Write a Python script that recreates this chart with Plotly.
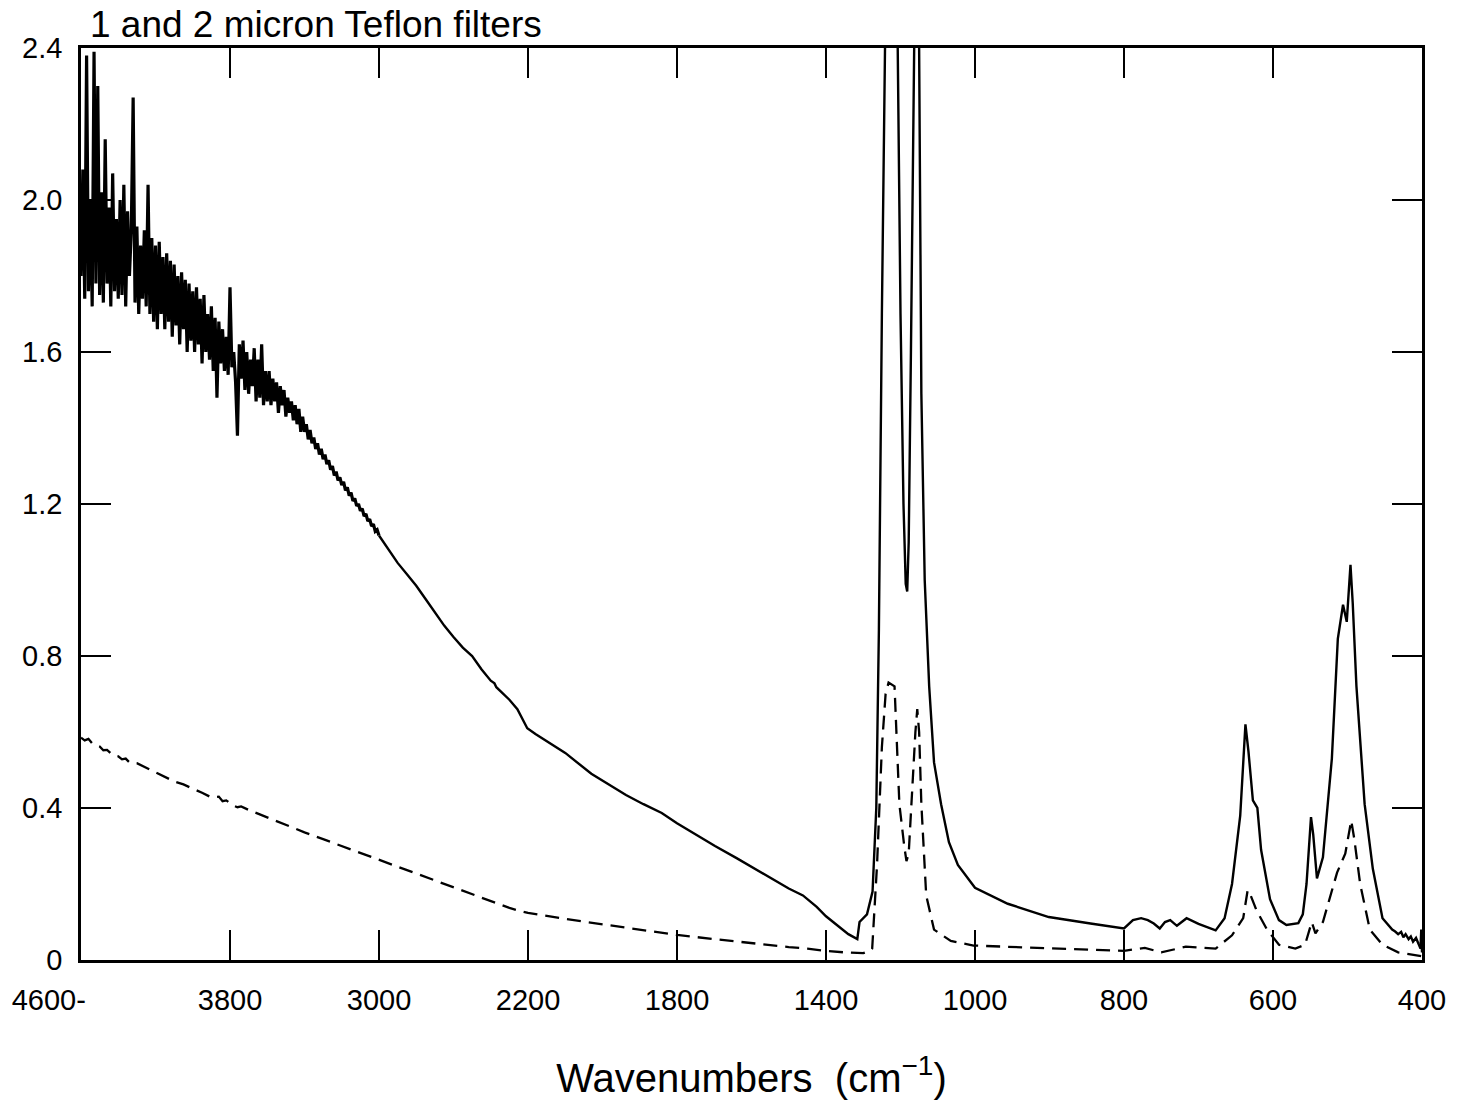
import numpy as np
import plotly.graph_objects as go

# ---- axis definition (piecewise-linear wavenumber scale, as in the original) ----
TICK_WN = [4600, 3800, 3000, 2200, 1800, 1400, 1000, 800, 600, 400]
TICK_TEXT = ["4600-" + "\u00a0" * 8, "3800", "3000", "2200", "1800", "1400", "1000", "800", "600", "400"]
Y_TICKS = [0, 0.4, 0.8, 1.2, 1.6, 2.0, 2.4]
Y_TEXT = ["0", "0.4", "0.8", "1.2", "1.6", "2.0", "2.4"]

# ---- solid curve (2 micron filter): noisy high-wavenumber part ----
SOLID_NOISY_WN = [
    4600, 4590, 4580, 4570, 4560, 4550, 4540, 4530, 4520, 4510, 4500, 4490, 4480, 4470, 4460,
    4450, 4440, 4430, 4420, 4410, 4400, 4390, 4380, 4370, 4360, 4350, 4340, 4330, 4320, 4310,
    4300, 4290, 4280, 4270, 4260, 4250, 4240, 4230, 4220, 4210, 4200, 4190, 4180, 4170, 4160,
    4150, 4140, 4130, 4120, 4110, 4100, 4090, 4080, 4070, 4060, 4050, 4040, 4030, 4020, 4010,
    4000, 3990, 3980, 3970, 3960, 3950, 3940, 3930, 3920, 3910, 3900, 3890, 3880, 3870, 3860,
    3850, 3840, 3830, 3820, 3810, 3800, 3790, 3780, 3770, 3760, 3750, 3740, 3730, 3720, 3710,
    3700, 3690, 3680, 3670, 3660, 3650, 3640, 3630, 3620, 3610,
    3600, 3590, 3580, 3570, 3560, 3550, 3540, 3530, 3520, 3510,
    3500, 3490, 3480, 3470, 3460, 3450, 3440, 3430, 3420, 3410,
    3400, 3390, 3380, 3370, 3360, 3350, 3340, 3330, 3320, 3310,
    3300, 3290, 3280, 3270, 3260, 3250, 3240, 3230, 3220, 3210,
    3200, 3190, 3180, 3170, 3160, 3150, 3140, 3130, 3120, 3110,
    3100, 3090, 3080, 3070, 3060, 3050, 3040, 3030, 3020, 3010, 3000,
]
SOLID_NOISY_ABS = [
    1.80, 2.08, 1.74, 2.38, 1.76, 2.00, 1.72, 2.39, 1.78, 2.30, 1.75, 2.02, 1.73, 2.16, 1.78,
    1.98, 1.72, 2.07, 1.76, 1.95, 1.74, 2.00, 1.75, 2.04, 1.72, 1.97, 1.80, 1.92, 2.27, 1.73,
    1.93, 1.70, 1.88, 1.74, 1.92, 1.72, 2.04, 1.70, 1.90, 1.68, 1.88, 1.66, 1.89, 1.70, 1.85,
    1.66, 1.86, 1.68, 1.84, 1.64, 1.83, 1.67, 1.80, 1.62, 1.81, 1.66, 1.79, 1.60, 1.78, 1.63,
    1.76, 1.60, 1.77, 1.62, 1.74, 1.57, 1.75, 1.60, 1.70, 1.58, 1.72, 1.55, 1.69, 1.48, 1.68,
    1.57, 1.66, 1.55, 1.64, 1.54, 1.77, 1.56, 1.60, 1.52, 1.38, 1.62, 1.53, 1.63, 1.50, 1.60,
    1.49, 1.58, 1.51, 1.61, 1.47, 1.58, 1.48, 1.62, 1.46, 1.55,
    1.47, 1.55, 1.46, 1.53, 1.47, 1.52, 1.44, 1.51, 1.46, 1.50,
    1.43, 1.48, 1.44, 1.47, 1.42, 1.46, 1.41, 1.45, 1.39, 1.43,
    1.39, 1.41, 1.37, 1.395, 1.36, 1.375, 1.345, 1.36, 1.33, 1.345,
    1.318, 1.33, 1.305, 1.315, 1.29, 1.30, 1.275, 1.285, 1.262, 1.27,
    1.25, 1.258, 1.236, 1.244, 1.222, 1.23, 1.208, 1.215, 1.195, 1.20,
    1.182, 1.188, 1.168, 1.174, 1.155, 1.16, 1.142, 1.147, 1.128, 1.132, 1.117,
]
# ---- solid curve: smoother part down to 400 cm-1 ----
SOLID_SMOOTH_WN = [
    3000, 2950, 2900, 2850, 2800, 2750, 2700, 2650, 2600, 2550, 2500, 2450, 2400, 2380, 2370,
    2330, 2300, 2257, 2230, 2204, 2180, 2144, 2100, 2030, 1990, 1937, 1890, 1841, 1800, 1750,
    1698, 1640, 1600, 1558, 1520, 1500, 1462, 1425, 1400, 1370, 1340, 1316, 1310, 1290, 1275,
    1265, 1258, 1250, 1244, 1238, 1225, 1215, 1208, 1200, 1192, 1186, 1182, 1178, 1172, 1166,
    1160, 1155, 1150, 1144, 1135, 1123, 1110, 1091, 1070, 1046, 1020, 1000, 956, 901, 845,
    800, 788, 777, 768, 760, 752, 745, 738, 729, 716, 700, 677, 665, 655, 644,
    637, 633, 627, 621, 616, 604, 592, 582, 566, 560, 555, 549, 546, 541, 533,
    521, 513, 506, 501, 496, 493, 488, 477, 466, 453, 445, 440, 436, 432, 428,
    425, 422, 418, 415, 412, 408, 405, 402, 401, 400,
]
SOLID_SMOOTH_ABS = [
    1.117, 1.080, 1.045, 1.015, 0.985, 0.950, 0.915, 0.880, 0.850, 0.822, 0.800, 0.765, 0.735, 0.728, 0.718,
    0.700, 0.685, 0.660, 0.635, 0.610, 0.595, 0.572, 0.545, 0.490, 0.465, 0.434, 0.410, 0.387, 0.360, 0.330,
    0.300, 0.268, 0.245, 0.220, 0.198, 0.188, 0.170, 0.140, 0.115, 0.092, 0.068, 0.055, 0.100, 0.120, 0.180,
    0.400, 0.870, 1.700, 2.450, 2.700, 2.700, 2.700, 2.450, 1.700, 1.200, 0.990, 0.970, 1.100, 1.600, 2.450,
    2.700, 2.650, 2.400, 1.490, 1.000, 0.720, 0.520, 0.410, 0.310, 0.250, 0.215, 0.190, 0.148, 0.113, 0.096,
    0.083, 0.105, 0.110, 0.105, 0.096, 0.083, 0.100, 0.105, 0.090, 0.110, 0.095, 0.078, 0.110, 0.200, 0.380,
    0.620, 0.550, 0.420, 0.400, 0.290, 0.160, 0.105, 0.092, 0.097, 0.120, 0.200, 0.376, 0.330, 0.215, 0.270,
    0.530, 0.845, 0.935, 0.890, 1.040, 0.940, 0.720, 0.410, 0.240, 0.110, 0.090, 0.080, 0.075, 0.068, 0.074,
    0.060, 0.068, 0.055, 0.062, 0.048, 0.058, 0.045, 0.030, 0.080, 0.020,
]

# ---- dashed curve (1 micron filter) ----
DASH_WN = [
    4600, 4580, 4560, 4540, 4520, 4500, 4480, 4460, 4440, 4420, 4400, 4380, 4360, 4340, 4300,
    4260, 4200, 4150, 4100, 4050, 4000, 3950, 3900, 3860, 3840, 3820, 3800, 3780, 3760, 3740,
    3700, 3600, 3500, 3400, 3300, 3200, 3100, 3000, 2900, 2800, 2700, 2600, 2500, 2400, 2300,
    2250, 2200, 2100, 2000, 1900, 1800, 1700, 1600, 1560, 1500, 1450, 1400, 1350, 1300, 1280,
    1276, 1263, 1250, 1240, 1232, 1216, 1203, 1190, 1184, 1178, 1171, 1160, 1155, 1150, 1144,
    1131, 1110, 1065, 1004, 950, 901, 850, 800, 772, 750, 717, 677, 655, 640, 634,
    630, 622, 608, 592, 570, 557, 548, 543, 533, 514, 503, 495, 491, 483, 470,
    453, 432, 400,
]
DASH_ABS = [
    0.585, 0.578, 0.582, 0.570, 0.566, 0.562, 0.552, 0.553, 0.544, 0.538, 0.536, 0.528, 0.530, 0.520, 0.518,
    0.508, 0.495, 0.482, 0.470, 0.462, 0.452, 0.440, 0.428, 0.430, 0.418, 0.420, 0.413, 0.406, 0.402, 0.404,
    0.395, 0.375, 0.354, 0.336, 0.318, 0.300, 0.282, 0.263, 0.244, 0.228, 0.210, 0.190, 0.172, 0.155, 0.137,
    0.130, 0.124, 0.108, 0.094, 0.080, 0.066, 0.055, 0.044, 0.040, 0.034, 0.030, 0.024, 0.020, 0.018, 0.025,
    0.030, 0.250, 0.560, 0.700, 0.730, 0.720, 0.410, 0.300, 0.260, 0.280, 0.410, 0.600, 0.660, 0.600, 0.410,
    0.170, 0.080, 0.050, 0.038, 0.034, 0.032, 0.028, 0.024, 0.032, 0.020, 0.035, 0.030, 0.065, 0.110, 0.184,
    0.170, 0.130, 0.080, 0.040, 0.030, 0.040, 0.100, 0.070, 0.100, 0.230, 0.280, 0.367, 0.320, 0.200, 0.080,
    0.040, 0.020, 0.010,
]


def to_pos(wn):
    """Map wavenumbers onto the piecewise-linear axis of the original plot."""
    return np.interp(-np.asarray(wn, dtype=float), -np.array(TICK_WN, dtype=float),
                     np.arange(len(TICK_WN), dtype=float))


FONT = "Liberation Sans, Arial, Helvetica, sans-serif"

fig = go.Figure()
fig.add_trace(go.Scatter(x=to_pos(DASH_WN), y=DASH_ABS, mode="lines",
                         line=dict(color="black", width=2.3, dash="14px,8px"),
                         name="1 micron", showlegend=False))
fig.add_trace(go.Scatter(x=to_pos(SOLID_NOISY_WN), y=SOLID_NOISY_ABS, mode="lines",
                         line=dict(color="black", width=3.2),
                         name="2 micron (noisy)", showlegend=False))
fig.add_trace(go.Scatter(x=to_pos(SOLID_SMOOTH_WN), y=SOLID_SMOOTH_ABS, mode="lines",
                         line=dict(color="black", width=2.4),
                         name="2 micron", showlegend=False))

fig.update_layout(
    width=1458, height=1107,
    margin=dict(l=69, r=31, t=48, b=147),
    paper_bgcolor="white", plot_bgcolor="white",
    font=dict(family=FONT, color="black"),
    title=dict(text="1 and 2 micron Teflon filters", x=90 / 1458, xanchor="left",
               y=1 - 24 / 1107, yanchor="middle", xref="container", yref="container",
               font=dict(size=37, family=FONT, color="black")),
)
fig.update_xaxes(
    range=[0, len(TICK_WN) - 1], tickmode="array", tickvals=list(range(len(TICK_WN))),
    ticktext=TICK_TEXT, ticks="inside", ticklen=30, tickwidth=2, tickcolor="black",
    showline=True, linecolor="black", linewidth=2.5, mirror="ticks", showgrid=False,
    zeroline=False, tickfont=dict(size=29, family=FONT), ticklabelstandoff=12,
    title=dict(text="Wavenumbers  (cm<sup>\u22121</sup>)", font=dict(size=40, family=FONT),
               standoff=50),
)
fig.update_yaxes(
    range=[0, 2.4], tickmode="array", tickvals=Y_TICKS, ticktext=Y_TEXT,
    ticks="inside", ticklen=30, tickwidth=2, tickcolor="black",
    showline=True, linecolor="black", linewidth=2.5, mirror="ticks", showgrid=False,
    zeroline=False, tickfont=dict(size=29, family=FONT), ticklabelstandoff=10,
)

fig.write_html("out.html")
